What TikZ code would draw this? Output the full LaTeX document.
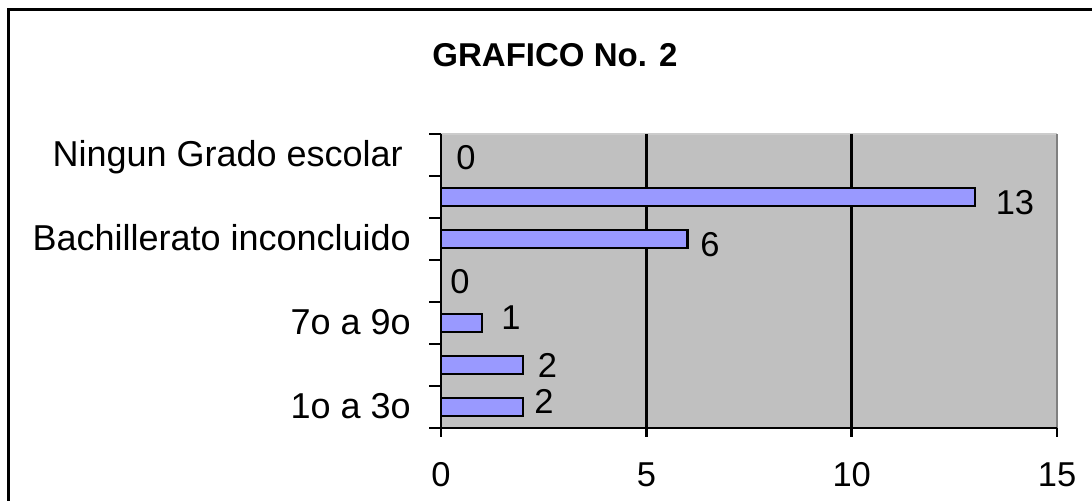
\documentclass[tikz,border=0pt]{standalone}
\usepackage{fontspec}
\setmainfont{Liberation Sans}
\definecolor{plotgray}{HTML}{C0C0C0}
\definecolor{barblue}{HTML}{9999FF}
\begin{document}
\begin{tikzpicture}[
    x=41.07pt, y=42pt,
    catlabel/.style={anchor=base east, inner sep=0pt, font=\fontsize{36}{42}\selectfont},
    vallabel/.style={anchor=base, inner sep=0pt, font=\fontsize{34.5}{40}\selectfont},
    ticklabel/.style={anchor=base, inner sep=0pt, font=\fontsize{34.5}{40}\selectfont},
    bar/.style={draw=black, line width=2.6pt, fill=barblue},
    axisline/.style={line width=2.5pt}
]
    \useasboundingbox (-10.738,-1.738) rectangle (15.851,10.190);
    \clip (-10.738,-1.738) rectangle (15.851,10.190);

    % chart frame, cut off at right and bottom
    \draw[line width=3pt] (-10.519,-5) rectangle (20,9.952);

    \node[anchor=base, inner sep=0pt, font=\fontsize{33}{40}\selectfont\bfseries] (title) at (2.776,8.602) {GRAFICO No. 2};

    % plot area
    \fill[plotgray] (0,0) rectangle (15,7);
    \draw[line width=1.5pt, gray!40] (0,7) -- (15,7);
    \draw[line width=2.5pt, gray] (15,0) -- (15,7);
    \foreach \gx in {5,10}
        \draw[axisline] (\gx,0) -- (\gx,7);

    % bars
    \foreach \v [count=\k] in {2,2,1,0,6,13,0}
        \draw[bar] (0,\k-0.5-0.215) rectangle (\v,\k-0.5+0.215);

    % axes and ticks
    \draw[axisline] (0,7) -- (0,0) -- (15,0);
    \foreach \k in {0,...,7}
        \draw[axisline] (0,\k) -- ++(-12pt,0);
    \foreach \gx in {0,5,10,15}
        \draw[axisline] (\gx,0) -- ++(0,-9pt);

    % category labels
    \node[catlabel] (cat1) at ([xshift=-30pt,yshift=-11.5pt]0,0.5) {1o a 3o};
    \node[catlabel] (cat3) at ([xshift=-30pt,yshift=-11.5pt]0,2.5) {7o a 9o};
    \node[catlabel] (cat5) at ([xshift=-30pt,yshift=-11.5pt]0,4.5) {Bachillerato inconcluido};
    \node[catlabel] (cat7) at ([xshift=-38pt,yshift=-11.5pt]0,6.5) {Ningun Grado escolar};

    % value labels
    \node[vallabel] (val1) at (2.508,0.333) {2};
    \node[vallabel] (val2) at (2.593,1.190) {2};
    \node[vallabel] (val3) at (1.704,2.333) {1};
    \node[vallabel] (val4) at (0.463,3.190) {0};
    \node[vallabel] (val5) at (6.550,4.079) {6};
    \node[vallabel] (val6) at (13.976,5.071) {13};
    \node[vallabel] (val7) at (0.609,6.143) {0};

    % x tick labels
    \foreach \gx in {0,5,10,15}
        \node[ticklabel] (tick\gx) at (\gx,-1.405) {\gx};
\end{tikzpicture}
\end{document}
